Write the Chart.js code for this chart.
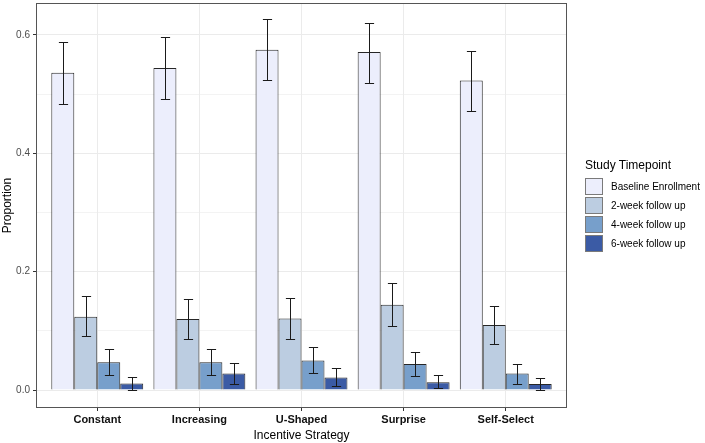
<!DOCTYPE html>
<html>
<head>
<meta charset="utf-8">
<script src="https://cdn.jsdelivr.net/npm/chart.js@4"></script>
<style>
    body { margin: 0; background: #fff; font-family: "Liberation Sans", Arial, sans-serif; }
    #wrap { position: relative; width: 705px; height: 443px; }
    #legenda { position: absolute; left: 585px; top: 158px; color: #000; }
    #legenda .titulo { font-size: 12px; margin-bottom: 5px; }
    #legenda .item { display: flex; align-items: center; height: 19px; font-size: 10px; }
    #legenda .caixa { width: 16px; height: 15px; border: 1px solid #7a7a7a; margin-right: 8px; }
</style>
</head>
<body>
<div id="wrap">
    <canvas id="grafico" width="705" height="443"></canvas>
    <div id="legenda"></div>
</div>
<script>
const estrategias = ['Constant', 'Increasing', 'U-Shaped', 'Surprise', 'Self-Select'];
const momentos = ['Baseline Enrollment', '2-week follow up', '4-week follow up', '6-week follow up'];
const cores = ['#ECEEFC', '#BCCDE1', '#779FCB', '#3B5BA5'];

const baseline   = [0.536, 0.544, 0.575, 0.571, 0.523];
const baselineLo = [0.484, 0.492, 0.524, 0.519, 0.471];
const baselineHi = [0.588, 0.596, 0.627, 0.621, 0.573];

const semana2   = [0.124, 0.120, 0.121, 0.144, 0.110];
const semana2Lo = [0.091, 0.086, 0.087, 0.108, 0.078];
const semana2Hi = [0.159, 0.154, 0.155, 0.180, 0.142];

const semana4   = [0.047, 0.047, 0.050, 0.044, 0.028];
const semana4Lo = [0.025, 0.026, 0.028, 0.023, 0.011];
const semana4Hi = [0.069, 0.069, 0.072, 0.065, 0.044];

const semana6   = [0.011, 0.028, 0.021, 0.013, 0.010];
const semana6Lo = [0.000, 0.011, 0.006, 0.003, 0.000];
const semana6Hi = [0.022, 0.046, 0.038, 0.026, 0.021];

const ticksY = [0, 0.1, 0.2, 0.3, 0.4, 0.5, 0.6];

const series = [
    { valores: baseline, lo: baselineLo, hi: baselineHi },
    { valores: semana2, lo: semana2Lo, hi: semana2Hi },
    { valores: semana4, lo: semana4Lo, hi: semana4Hi },
    { valores: semana6, lo: semana6Lo, hi: semana6Hi }
];

// barras de erro por cima das colunas + moldura do painel
const barrasErro = {
    id: 'barrasErro',
    afterDatasetsDraw(chart) {
        const ctx = chart.ctx;
        const y = chart.scales.y;
        ctx.save();
        ctx.strokeStyle = '#1a1a1a';
        ctx.lineWidth = 1;
        chart.data.datasets.forEach((ds, i) => {
            const meta = chart.getDatasetMeta(i);
            meta.data.forEach((barra, j) => {
                const meio = barra.width * 0.2;
                const x = Math.round(barra.x) + 0.5;
                const topo = Math.round(y.getPixelForValue(series[i].hi[j])) + 0.5;
                const fundo = Math.round(y.getPixelForValue(series[i].lo[j])) + 0.5;
                ctx.beginPath();
                ctx.moveTo(x, topo); ctx.lineTo(x, fundo);
                ctx.moveTo(x - meio, topo); ctx.lineTo(x + meio, topo);
                ctx.moveTo(x - meio, fundo); ctx.lineTo(x + meio, fundo);
                ctx.stroke();
            });
        });
        ctx.restore();
    },
    afterDraw(chart) {
        const a = chart.chartArea;
        const ctx = chart.ctx;
        ctx.save();
        ctx.strokeStyle = '#555';
        ctx.lineWidth = 1;
        ctx.strokeRect(Math.round(a.left) + 0.5, Math.round(a.top) + 0.5,
            Math.round(a.right - a.left) - 1, Math.round(a.bottom - a.top) - 1);
        ctx.restore();
    }
};

const grafico = new Chart(document.getElementById('grafico'), {
    type: 'bar',
    data: {
        datasets: series.map((s, i) => ({
            label: momentos[i],
            data: s.valores.map((v, j) => ({ x: j, y: v })),
            backgroundColor: cores[i],
            borderColor: '#262626',
            borderWidth: 1,
            categoryPercentage: 0.9,
            barPercentage: 1.0
        }))
    },
    options: {
        responsive: false,
        animation: false,
        layout: { padding: { top: 3, right: 138, left: 0, bottom: 0 } },
        plugins: {
            legend: { display: false },
            tooltip: { enabled: false }
        },
        scales: {
            x: {
                type: 'linear',
                min: -0.6,
                max: 4.6,
                offset: false,
                afterBuildTicks: s => { s.ticks = estrategias.map((e, i) => ({ value: i })); },
                afterFit: s => { s.height = 35; s.paddingLeft = 0; s.paddingRight = 0; },
                border: { display: false },
                grid: { offset: false, color: '#EBEBEB', lineWidth: 1, tickColor: '#333', tickLength: 3 },
                ticks: {
                    callback: v => estrategias[v],
                    color: '#111',
                    font: { family: 'Liberation Sans', size: 11, weight: 'bold' },
                    padding: 2,
                    maxRotation: 0
                },
                title: {
                    display: true,
                    text: 'Incentive Strategy',
                    color: '#000',
                    font: { family: 'Liberation Sans', size: 12 },
                    padding: { top: 0, bottom: 0 }
                }
            },
            y: {
                min: -0.0304,
                max: 0.654,
                afterBuildTicks: s => { s.ticks = ticksY.map(v => ({ value: v })); },
                afterFit: s => { s.width = 36; s.paddingTop = 0; s.paddingBottom = 0; },
                border: { display: false },
                grid: {
                    color: '#EBEBEB',
                    lineWidth: c => (Math.round(c.tick.value * 10) % 2 === 0 ? 1 : 0.6),
                    tickColor: c => (Math.round(c.tick.value * 10) % 2 === 0 ? '#333' : 'rgba(0,0,0,0)'),
                    tickLength: 3
                },
                ticks: {
                    callback: (v) => (Math.round(v * 10) % 2 === 0 ? v.toFixed(1) : ''),
                    color: '#4D4D4D',
                    font: { family: 'Liberation Sans', size: 10 },
                    padding: 3
                },
                title: {
                    display: true,
                    text: 'Proportion',
                    color: '#000',
                    font: { family: 'Liberation Sans', size: 12 },
                    padding: { top: 0, bottom: 0 }
                }
            }
        }
    },
    plugins: [barrasErro]
});

// legenda em HTML a partir dos datasets
const legenda = document.getElementById('legenda');
legenda.innerHTML = '<div class="titulo">Study Timepoint</div>' +
    grafico.data.datasets.map(ds =>
        `<div class="item"><span class="caixa" style="background:${ds.backgroundColor}"></span>${ds.label}</div>`
    ).join('');
</script>
</body>
</html>
